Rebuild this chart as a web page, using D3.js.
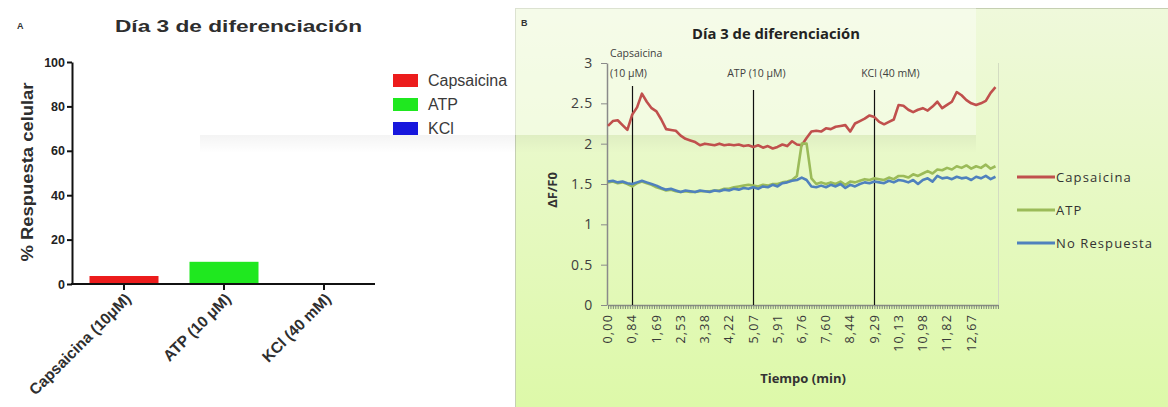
<!DOCTYPE html>
<html>
<head>
<meta charset="utf-8">
<script src="https://cdn.jsdelivr.net/npm/d3@7"></script>
<style>
  body { margin: 0; background: #fff; }
  svg { display: block; }
</style>
</head>
<body>
<div id="chart"></div>
<script>

/* ---- panel A : % respuesta celular ---- */
var barCats = ["Capsaicina (10\u03bcM)", "ATP (10 \u03bcM)", "KCl (40 mM)"];
var barVals = [3.6, 10, 0];
var barColors = ["#ec1c1c", "#1fe81f", "#1717dd"];
var legendA = ["Capsaicina", "ATP", "KCl"];
var yTicksA = [0, 20, 40, 60, 80, 100];

/* ---- panel B : ΔF/F0 over time ---- */
var timeStep = 0.1689;   // minutes between plotted samples
var catStep = 0.08446;   // minutes between excel categories (axis marks)

var capsaicina = [2.22, 2.28, 2.29, 2.23, 2.17, 2.36, 2.45, 2.62, 2.52, 2.44,
  2.40, 2.30, 2.18, 2.17, 2.16, 2.10, 2.06, 2.04, 2.02, 1.98,
  2.00, 1.99, 1.98, 2.00, 1.98, 1.99, 1.98, 1.99, 1.97, 1.98,
  1.96, 1.98, 1.95, 1.97, 1.94, 1.96, 1.99, 1.97, 2.03, 1.99,
  1.98, 2.07, 2.15, 2.16, 2.15, 2.19, 2.18, 2.21, 2.22, 2.23,
  2.15, 2.25, 2.28, 2.31, 2.35, 2.33, 2.27, 2.24, 2.27, 2.30,
  2.48, 2.47, 2.42, 2.39, 2.42, 2.44, 2.41, 2.46, 2.52, 2.44,
  2.48, 2.52, 2.64, 2.60, 2.54, 2.50, 2.48, 2.50, 2.53, 2.63,
  2.70];

var atp = [1.52, 1.53, 1.51, 1.52, 1.50, 1.47, 1.51, 1.53, 1.51, 1.49,
  1.46, 1.44, 1.42, 1.43, 1.41, 1.40, 1.41, 1.40, 1.40, 1.41,
  1.41, 1.41, 1.42, 1.42, 1.44, 1.44, 1.46, 1.47, 1.48, 1.49,
  1.48, 1.47, 1.49, 1.48, 1.50, 1.50, 1.52, 1.53, 1.55, 1.60,
  2.00, 2.00, 1.57, 1.50, 1.52, 1.50, 1.52, 1.50, 1.53, 1.49,
  1.53, 1.52, 1.54, 1.56, 1.55, 1.57, 1.56, 1.55, 1.58, 1.56,
  1.60, 1.60, 1.58, 1.62, 1.60, 1.63, 1.66, 1.63, 1.68, 1.67,
  1.70, 1.68, 1.72, 1.70, 1.73, 1.69, 1.72, 1.70, 1.74, 1.69,
  1.72];

var noRespuesta = [1.53, 1.54, 1.52, 1.53, 1.51, 1.50, 1.52, 1.54, 1.52, 1.50,
  1.48, 1.45, 1.43, 1.44, 1.42, 1.40, 1.42, 1.41, 1.40, 1.42,
  1.41, 1.40, 1.42, 1.41, 1.43, 1.42, 1.44, 1.43, 1.45, 1.44,
  1.46, 1.44, 1.47, 1.46, 1.49, 1.47, 1.51, 1.52, 1.54, 1.55,
  1.58, 1.55, 1.47, 1.46, 1.48, 1.46, 1.49, 1.47, 1.50, 1.45,
  1.49, 1.47, 1.50, 1.52, 1.51, 1.53, 1.52, 1.51, 1.54, 1.52,
  1.55, 1.54, 1.52, 1.55, 1.50, 1.55, 1.57, 1.53, 1.60, 1.57,
  1.58, 1.56, 1.59, 1.57, 1.58, 1.55, 1.59, 1.57, 1.60, 1.56,
  1.59];

var seriesNames = ["Capsaicina", "ATP", "No Respuesta"];
var seriesColors = ["#c0504d", "#9bbb59", "#4f81bd"];
var yTicksB = [0, 0.5, 1, 1.5, 2, 2.5, 3];
var xTickTimes = [0, 0.84, 1.69, 2.53, 3.38, 4.22, 5.07, 5.91, 6.76, 7.60, 8.44, 9.29, 10.13, 10.98, 11.82, 12.67];
var xTickLabels = ["0,00", "0,84", "1,69", "2,53", "3,38", "4,22", "5,07", "5,91", "6,76", "7,60", "8,44", "9,29", "10,13", "10,98", "11,82", "12,67"];
var eventTimes = [0.84, 5.07, 9.29];
var eventLabels = [["Capsaicina", "(10 \u03bcM)"], ["ATP (10 \u03bcM)"], ["KCl (40 mM)"]];


var svg = d3.select("#chart").append("svg")
  .attr("width", 1168)
  .attr("height", 407)
  .style("font-family", "'Liberation Sans', Arial, sans-serif");

var defs = svg.append("defs");
var bg = defs.append("linearGradient").attr("id", "bgB")
  .attr("x1", 0).attr("y1", 0).attr("x2", 0).attr("y2", 1);
bg.append("stop").attr("offset", "0%").attr("stop-color", "#eff9db");
bg.append("stop").attr("offset", "100%").attr("stop-color", "#dcf9a6");
var sh = defs.append("linearGradient").attr("id", "shadow")
  .attr("x1", 0).attr("y1", 0).attr("x2", 0).attr("y2", 1);
sh.append("stop").attr("offset", "0%").attr("stop-color", "#000").attr("stop-opacity", 0.045);
sh.append("stop").attr("offset", "100%").attr("stop-color", "#000").attr("stop-opacity", 0);


/* ================= panel B frame + faint watermark box ================= */
svg.append("rect")
  .attr("x", 515.5).attr("y", 8.5)
  .attr("width", 670).attr("height", 420)
  .attr("fill", "url(#bgB)")
  .attr("stroke", "#c5cfb2");

svg.append("rect").attr("x", 200).attr("y", -5).attr("width", 776).attr("height", 140)
  .attr("fill", "#fff").attr("opacity", 0.4);
svg.append("rect").attr("x", 200).attr("y", 135).attr("width", 776).attr("height", 18)
  .attr("fill", "url(#shadow)");


/* ================= panel A ================= */
svg.append("text").attr("x", 17).attr("y", 29)
  .attr("font-size", 9).attr("font-weight", "bold").attr("fill", "#333").text("A");

svg.append("text").attr("x", 115).attr("y", 32)
  .attr("font-size", 17).attr("font-weight", "bold").attr("fill", "#2e2e2e")
  .attr("textLength", 247).attr("lengthAdjust", "spacingAndGlyphs")
  .text("D\u00eda 3 de diferenciaci\u00f3n".replace("\u00ea", "\u00ed"));

var xA = d3.scaleBand().domain(barCats).range([74, 374])
  .paddingInner(0.31).paddingOuter(0.155);
var yA = d3.scaleLinear().domain([0, 100]).range([284, 62]);

svg.append("g").selectAll("rect")
  .data(barVals)
  .enter().append("rect")
  .attr("x", function (d, i) { return xA(barCats[i]); })
  .attr("width", xA.bandwidth())
  .attr("y", function (d) { return yA(d); })
  .attr("height", function (d) { return yA(0) - yA(d); })
  .attr("fill", function (d, i) { return barColors[i]; });

var gyA = svg.append("g").attr("transform", "translate(72,0)")
  .call(d3.axisLeft(yA).tickValues(yTicksA).tickSize(5).tickSizeOuter(0));
gyA.attr("font-family", null);
gyA.select(".domain").attr("stroke", "#111").attr("stroke-width", 2);
gyA.selectAll(".tick line").attr("stroke", "#111").attr("stroke-width", 2);
gyA.selectAll(".tick text").attr("x", -7)
  .attr("font-size", 12.5).attr("font-weight", "bold").attr("fill", "#222");

var gxA = svg.append("g").attr("transform", "translate(0,284)")
  .call(d3.axisBottom(xA).tickSize(6).tickSizeOuter(0));
gxA.select(".domain").attr("stroke", "#111").attr("stroke-width", 2)
  .attr("d", "M71,0H375");
gxA.selectAll(".tick line").attr("stroke", "#111").attr("stroke-width", 2);
gxA.selectAll(".tick text").remove();
gxA.selectAll(".tick").append("text")
  .attr("transform", "translate(4,12) rotate(-45)")
  .attr("text-anchor", "end")
  .attr("dy", "0.35em")
  .attr("font-family", "'Liberation Sans', Arial, sans-serif")
  .attr("font-size", 15.5).attr("font-weight", "bold").attr("fill", "#2e2e2e")
  .text(function (d) { return d; });

svg.append("text")
  .attr("transform", "translate(33,172) rotate(-90)")
  .attr("text-anchor", "middle")
  .attr("font-size", 16).attr("font-weight", "bold").attr("fill", "#2e2e2e")
  .attr("textLength", 179).attr("lengthAdjust", "spacingAndGlyphs")
  .text("% Respuesta celular");

// legend A
var legA = svg.append("g").selectAll("g")
  .data(legendA).enter().append("g")
  .attr("transform", function (d, i) { return "translate(393," + (74 + i * 24) + ")"; });
legA.append("rect").attr("width", 25).attr("height", 13)
  .attr("fill", function (d, i) { return barColors[i]; });
legA.append("text").attr("x", 35).attr("y", 12)
  .attr("font-size", 16).attr("fill", "#3a3a3a")
  .text(function (d) { return d; });


/* ================= panel B ================= */
var fontB = "'Open Sans', 'DejaVu Sans', sans-serif";

svg.append("text").attr("x", 521).attr("y", 26)
  .attr("font-size", 9).attr("font-weight", "bold").attr("fill", "#333").text("B");

svg.append("text").attr("x", 776).attr("y", 39)
  .attr("text-anchor", "middle")
  .attr("font-family", fontB).attr("font-size", 15).attr("font-weight", "bold").attr("fill", "#222")
  .attr("textLength", 168).attr("lengthAdjust", "spacingAndGlyphs")
  .text("D\u00eda 3 de diferenciaci\u00f3n".replace("\u00ea", "\u00ed"));

var xB = d3.scaleLinear().domain([0, 13.6]).range([608, 998]);
var yB = d3.scaleLinear().domain([0, 3]).range([305, 63]);

// right edge of plot area
svg.append("line").attr("x1", 998.5).attr("x2", 998.5).attr("y1", 63).attr("y2", 305)
  .attr("stroke", "#d3dcc2");

var catTicks = d3.range(0, 13.6, catStep);
var gxB = svg.append("g").attr("transform", "translate(0,305)")
  .call(d3.axisBottom(xB).tickValues(catTicks).tickSize(4).tickSizeOuter(0).tickFormat(""));
gxB.select(".domain").attr("stroke", "#8a8a8a").attr("stroke-width", 1.5);
gxB.selectAll(".tick line").attr("stroke", "#7e8a78");

gxB.selectAll(".lbl")
  .data(xTickTimes).enter().append("text")
  .attr("class", "lbl")
  .attr("transform", function (d) { return "translate(" + xB(d) + ",9) rotate(-90)"; })
  .attr("text-anchor", "end")
  .attr("dy", "0.35em")
  .attr("font-family", fontB).attr("font-size", 12.5).attr("fill", "#3a3a3a")
  .attr("letter-spacing", 1.2)
  .text(function (d, i) { return xTickLabels[i]; });

var gyB = svg.append("g").attr("transform", "translate(607,0)")
  .call(d3.axisLeft(yB).tickValues(yTicksB).tickSize(6).tickSizeOuter(0).tickFormat(d3.format("")));
gyB.select(".domain").attr("stroke", "#8a8a8a").attr("stroke-width", 1.5);
gyB.selectAll(".tick line").attr("stroke", "#8a8a8a");
gyB.selectAll(".tick text").attr("x", -14)
  .attr("font-family", fontB).attr("font-size", 14).attr("fill", "#3e3e3e")
  .attr("letter-spacing", 0.8);

svg.append("text")
  .attr("transform", "translate(557,190) rotate(-90)")
  .attr("text-anchor", "middle")
  .attr("font-family", fontB).attr("font-size", 13).attr("font-weight", "bold").attr("fill", "#333")
  .text("\u0394F/F0");

svg.append("text").attr("x", 803).attr("y", 383)
  .attr("text-anchor", "middle")
  .attr("font-family", fontB).attr("font-size", 13).attr("font-weight", "bold").attr("fill", "#333")
  .text("Tiempo (min)");

// event markers
var eventLabelDx = [-22, 3, 16];
var ev = svg.append("g").selectAll("g")
  .data(eventTimes).enter().append("g");
ev.append("line")
  .attr("x1", function (d) { return Math.round(xB(d)) + 0.5; })
  .attr("x2", function (d) { return Math.round(xB(d)) + 0.5; })
  .attr("y1", function (d, i) { return i === 0 ? 86 : 90; })
  .attr("y2", yB(0))
  .attr("stroke", "#111").attr("stroke-width", 1.2);
ev.each(function (d, i) {
  var t = d3.select(this).append("text")
    .attr("font-family", fontB).attr("font-size", 10.5).attr("fill", "#404040")
    .attr("text-anchor", i === 0 ? "start" : "middle");
  var lines = eventLabels[i];
  lines.forEach(function (s, k) {
    t.append("tspan")
      .attr("x", xB(d) + eventLabelDx[i])
      .attr("y", 77 - (lines.length - 1 - k) * 20)
      .text(s);
  });
});

// series lines
var lineB = d3.line()
  .x(function (d, i) { return xB(i * timeStep); })
  .y(function (d) { return yB(d); });

var seriesData = [capsaicina, atp, noRespuesta];
svg.append("g").selectAll("path")
  .data(seriesData).enter().append("path")
  .attr("d", lineB)
  .attr("fill", "none")
  .attr("stroke", function (d, i) { return seriesColors[i]; })
  .attr("stroke-width", 2.6)
  .attr("stroke-linejoin", "round");

// legend B
var legB = svg.append("g").selectAll("g")
  .data(seriesNames).enter().append("g")
  .attr("transform", function (d, i) { return "translate(1017," + (177 + i * 33) + ")"; });
legB.append("line").attr("x1", 0).attr("x2", 38)
  .attr("stroke", function (d, i) { return seriesColors[i]; })
  .attr("stroke-width", 3);
legB.append("text").attr("x", 39).attr("dy", "0.35em")
  .attr("font-family", fontB).attr("font-size", 13).attr("fill", "#333")
  .attr("letter-spacing", 1.1)
  .text(function (d) { return d; });

</script>
</body>
</html>
